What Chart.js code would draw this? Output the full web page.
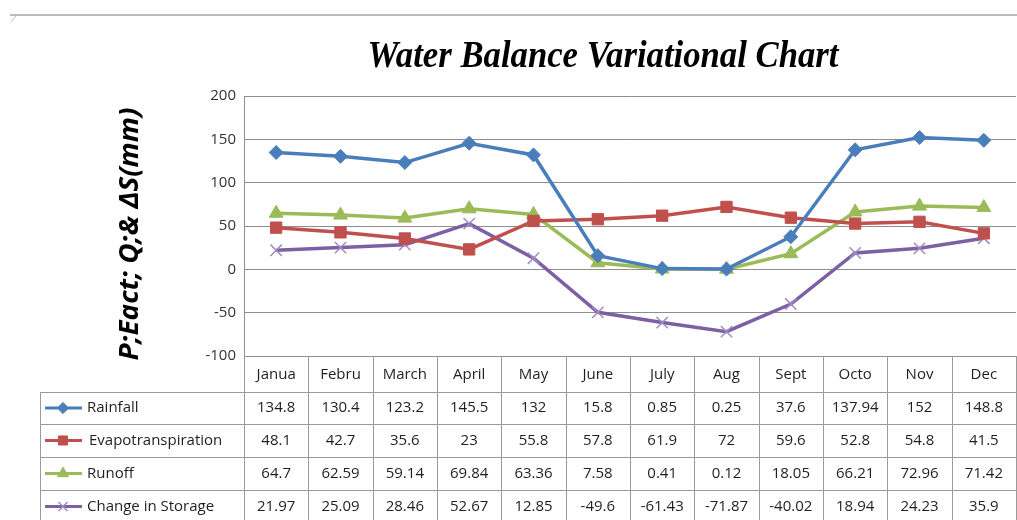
<!DOCTYPE html>
<html>
<head>
<meta charset="utf-8">
<script src="https://cdn.jsdelivr.net/npm/chart.js@4"></script>
<style>
  html, body { margin: 0; padding: 0; background: #fff; }
  #wrap { width: 1017px; height: 520px; }
</style>
</head>
<body>
<div id="wrap"><canvas id="balanco" width="1017" height="520"></canvas></div>
<script>
const months = ['Janua', 'Febru', 'March', 'April', 'May', 'June', 'July', 'Aug', 'Sept', 'Octo', 'Nov', 'Dec'];
const rainfall = [134.8, 130.4, 123.2, 145.5, 132, 15.8, 0.85, 0.25, 37.6, 137.94, 152, 148.8];
const evapo = [48.1, 42.7, 35.6, 23, 55.8, 57.8, 61.9, 72, 59.6, 52.8, 54.8, 41.5];
const runoff = [64.7, 62.59, 59.14, 69.84, 63.36, 7.58, 0.41, 0.12, 18.05, 66.21, 72.96, 71.42];
const storage = [21.97, 25.09, 28.46, 52.67, 12.85, -49.6, -61.43, -71.87, -40.02, 18.94, 24.23, 35.9];
const yTicks = [-100, -50, 0, 50, 100, 150, 200];

const gridCor = '#8e8e8e';
const fonte = '"Open Sans", "DejaVu Sans", sans-serif';

// texto comprimido/esticado para caber numa largura
function textoNaLargura(ctx, txt, cx, cy, largura) {
    const w = ctx.measureText(txt).width;
    ctx.save();
    ctx.translate(cx, cy);
    ctx.scale(largura / w, 1);
    ctx.fillText(txt, 0, 0);
    ctx.restore();
}

// desenha titulo, titulo do eixo e a tabela de dados abaixo do grafico
const tabelaPlugin = {
    id: 'tabela',
    afterDraw(chart) {
        const ctx = chart.ctx;
        const area = chart.chartArea;
        const x = chart.scales.x;
        const n = months.length;
        const colW = (area.right - area.left) / n;
        const rows = [392, 424, 457, 490, 523];
        const legLeft = 40;

        ctx.save();
        // linha cinza no topo (borda da captura)
        ctx.strokeStyle = '#b9bdbd';
        ctx.lineWidth = 2;
        ctx.beginPath();
        ctx.moveTo(10, 15); ctx.lineTo(1017, 15);
        ctx.stroke();
        ctx.lineWidth = 1;
        ctx.beginPath();
        ctx.moveTo(16, 16); ctx.lineTo(11, 22);
        ctx.stroke();

        // titulo
        ctx.fillStyle = '#000';
        ctx.font = 'italic bold 37px "Liberation Serif", "DejaVu Serif", serif';
        ctx.textAlign = 'center';
        ctx.textBaseline = 'alphabetic';
        textoNaLargura(ctx, 'Water Balance Variational Chart', 603, 67, 471);

        // titulo do eixo y
        ctx.save();
        ctx.translate(131, 234);
        ctx.rotate(-Math.PI / 2);
        ctx.font = 'italic bold 26px ' + fonte;
        ctx.textBaseline = 'middle';
        textoNaLargura(ctx, 'P;Eact; Q;& \u0394S(mm)', 0, 0, 253);
        ctx.restore();

        // grade da tabela
        ctx.strokeStyle = '#9a9a9a';
        ctx.lineWidth = 1;
        ctx.beginPath();
        for (let i = 0; i <= n; i++) {
            const xx = Math.round(area.left + i * colW) + 0.5;
            ctx.moveTo(xx, area.bottom); ctx.lineTo(xx, 520);
        }
        for (let r = 0; r < 4; r++) {
            ctx.moveTo(legLeft, rows[r] + 0.5); ctx.lineTo(area.right, rows[r] + 0.5);
        }
        ctx.moveTo(legLeft + 0.5, rows[0]); ctx.lineTo(legLeft + 0.5, 520);
        ctx.stroke();

        // cabecalho
        ctx.fillStyle = '#1f1f1f';
        ctx.font = '15px ' + fonte;
        ctx.textAlign = 'center';
        ctx.textBaseline = 'middle';
        months.forEach((m, i) => {
            ctx.fillText(m, x.getPixelForValue(i), (area.bottom + rows[0]) / 2 + 1);
        });

        // linhas de valores com legenda
        chart.data.datasets.forEach((ds, r) => {
            const cy = (rows[r] + rows[r + 1]) / 2;
            ctx.textAlign = 'center';
            ctx.fillStyle = '#1f1f1f';
            ds.data.forEach((v, i) => {
                ctx.fillText(String(v), x.getPixelForValue(i), cy);
            });
            // simbolo
            ctx.strokeStyle = ds.borderColor;
            ctx.lineWidth = 3;
            ctx.beginPath();
            ctx.moveTo(45, cy); ctx.lineTo(82, cy);
            ctx.stroke();
            ctx.fillStyle = ds.pointBackgroundColor;
            ctx.strokeStyle = ds.pointBorderColor;
            ctx.lineWidth = ds.pointBorderWidth;
            Chart.helpers.drawPoint(ctx, {
                pointStyle: ds.pointStyle,
                radius: ds.pointRadius * 0.8,
                rotation: 0,
                borderWidth: ds.pointBorderWidth
            }, 63, cy);
            ctx.fillStyle = '#1f1f1f';
            ctx.textAlign = 'left';
            ctx.fillText(ds.label, r === 1 ? 89 : 87, cy);
        });
        ctx.restore();
    }
};

const ctx1 = document.getElementById('balanco').getContext('2d');
const chartBalanco = new Chart(ctx1, {
    type: 'line',
    data: {
        labels: months,
        datasets: [{
            label: 'Rainfall',
            data: rainfall,
            borderColor: '#4a7ebb',
            backgroundColor: '#4a7ebb',
            pointBackgroundColor: '#4a7ebb',
            pointBorderColor: '#4a7ebb',
            pointBorderWidth: 1,
            pointStyle: 'rectRot',
            pointRadius: 7,
            borderWidth: 3.5
        },
        {
            label: 'Evapotranspiration',
            data: evapo,
            borderColor: '#c0504d',
            backgroundColor: '#c0504d',
            pointBackgroundColor: '#c0504d',
            pointBorderColor: '#c0504d',
            pointBorderWidth: 1,
            pointStyle: 'rect',
            pointRadius: 8,
            borderWidth: 3.5
        },
        {
            label: 'Runoff',
            data: runoff,
            borderColor: '#9bbb59',
            backgroundColor: '#9bbb59',
            pointBackgroundColor: '#9bbb59',
            pointBorderColor: '#9bbb59',
            pointBorderWidth: 1,
            pointStyle: 'triangle',
            pointRadius: 8,
            borderWidth: 3.5
        },
        {
            label: 'Change in Storage',
            data: storage,
            borderColor: '#7d5fa3',
            backgroundColor: '#7d5fa3',
            pointBackgroundColor: '#a08cc4',
            pointBorderColor: '#a08cc4',
            pointBorderWidth: 1.5,
            pointStyle: 'crossRot',
            pointRadius: 8,
            borderWidth: 3.5
        }]
    },
    options: {
        responsive: false,
        animation: false,
        devicePixelRatio: 1,
        layout: { autoPadding: false, padding: { top: 96, bottom: 164, left: 0, right: 1 } },
        plugins: {
            legend: { display: false },
            title: { display: false },
            tooltip: { enabled: false }
        },
        scales: {
            x: {
                display: false,
                offset: true
            },
            y: {
                min: -100,
                max: 200,
                afterFit: s => { s.width = 244; },
                afterBuildTicks: s => { s.ticks = yTicks.map(v => ({ value: v })); },
                grid: { color: gridCor, drawTicks: false },
                border: { color: gridCor },
                ticks: {
                    padding: 8,
                    color: '#333',
                    font: { family: '"Open Sans", sans-serif', size: 15 }
                }
            }
        }
    },
    plugins: [tabelaPlugin]
});
</script>
</body>
</html>
